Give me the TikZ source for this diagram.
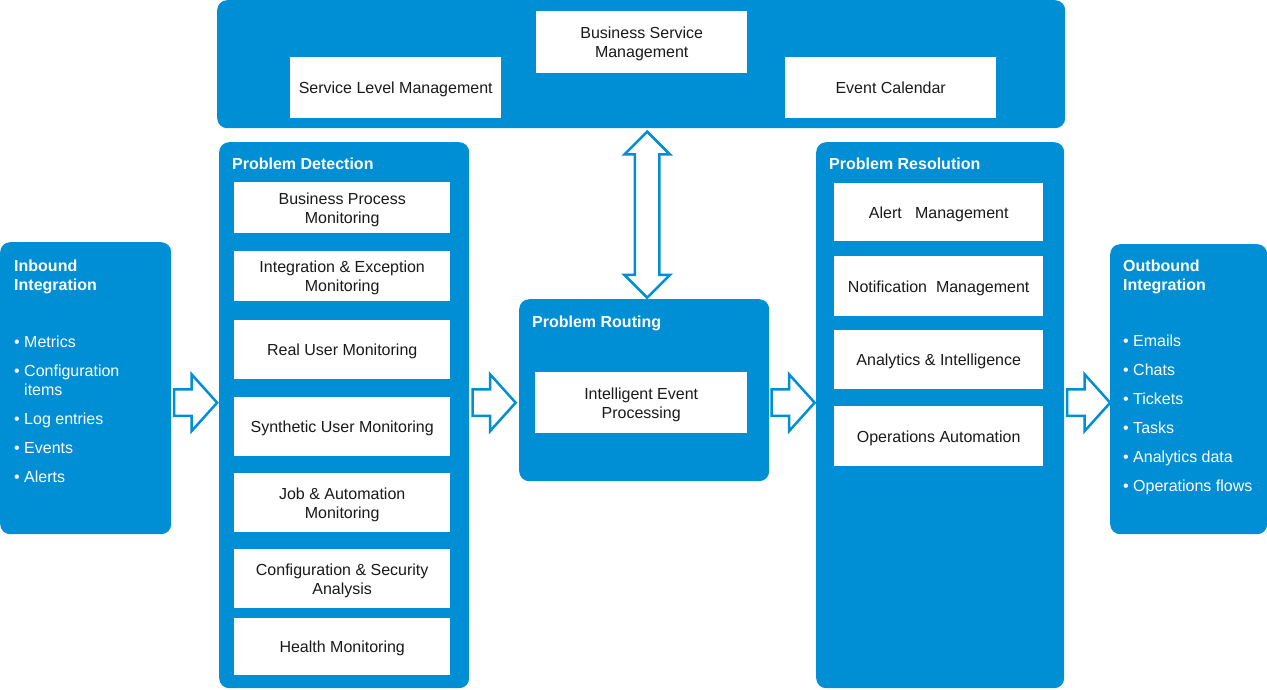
\documentclass[tikz,border=0pt]{standalone}
\usepackage{fontspec}
\setmainfont{Liberation Sans}
\usepackage{xcolor}
\usepackage{tikz}
\usetikzlibrary{shapes.arrows, calc}
\definecolor{panelblue}{HTML}{008FD4}
\definecolor{boxtext}{HTML}{1A1A1A}
\tikzset{
    panel/.style={fill=panelblue, rounded corners=10pt, anchor=north west, inner sep=0pt},
    whitebox/.style={fill=white, anchor=north west, inner sep=2pt, text depth=0pt, align=center, text=boxtext, font=\fontsize{16}{19}\selectfont},
    paneltitle/.style={anchor=base west, inner sep=0pt, align=left, text=white, font=\fontsize{16}{19}\selectfont\bfseries},
    itemlist/.style={anchor=base west, inner sep=0pt, align=left, text=white, font=\fontsize{16}{19}\selectfont},
    flowarrow/.style={single arrow, anchor=tail, draw=panelblue, fill=white, line width=2.5pt, inner xsep=0pt, inner ysep=12pt, minimum height=43pt, single arrow head extend=15pt, single arrow tip angle=96},
    dualarrow/.style={double arrow, rotate=90, draw=panelblue, fill=white, line width=2.5pt, inner xsep=0pt, inner ysep=11pt, minimum height=166pt, double arrow head extend=10.5pt}
}
\begin{document}
\begin{tikzpicture}[x=1pt, y=-1pt]
    \useasboundingbox (0,0) rectangle (1267,689);
    % Service management band
    \node[panel, minimum width=848pt, minimum height=128pt] (top) at (217,0) {};
    \node[whitebox, minimum width=211pt, minimum height=62pt] (bsm) at (536,11) {Business Service\\Management};
    \node[whitebox, minimum width=211pt, minimum height=61pt] (slm) at (290,57) {Service Level Management};
    \node[whitebox, minimum width=211pt, minimum height=61pt] (cal) at (785,57) {Event Calendar};
    % Inbound (base = last line)
    \node[panel, minimum width=171pt, minimum height=292pt] (inb) at (0,242) {};
    \node[paneltitle] (inbtitle) at ($(inb.north west)+(14,48)$) {Inbound\\Integration};
    \node[itemlist] (inblist) at ($(inb.north west)+(14,240)$) {• Metrics\\[10pt]• Configuration\\\hphantom{• }items\\[10pt]• Log entries\\[10pt]• Events\\[10pt]• Alerts};
    % Problem detection
    \node[panel, minimum width=250pt, minimum height=546pt] (det) at (219,142) {};
    \node[paneltitle] (dettitle) at ($(det.north west)+(13,27)$) {Problem Detection};
    \node[whitebox, minimum width=216pt, minimum height=51pt] (bpm) at (234,182) {Business Process\\Monitoring};
    \node[whitebox, minimum width=216pt, minimum height=50pt] (iem) at (234,251) {Integration \& Exception\\Monitoring};
    \node[whitebox, minimum width=216pt, minimum height=59pt] (rum) at (234,320) {Real User Monitoring};
    \node[whitebox, minimum width=216pt, minimum height=59pt] (sum) at (234,397) {Synthetic User Monitoring};
    \node[whitebox, minimum width=216pt, minimum height=59pt] (jam) at (234,473) {Job \& Automation\\Monitoring};
    \node[whitebox, minimum width=216pt, minimum height=59pt] (csa) at (234,549) {Configuration \& Security\\Analysis};
    \node[whitebox, minimum width=216pt, minimum height=57pt] (hlm) at (234,618) {Health Monitoring};
    % Problem routing
    \node[panel, minimum width=250pt, minimum height=182pt] (rout) at (519,299) {};
    \node[paneltitle] (routtitle) at ($(rout.north west)+(13,28)$) {Problem Routing};
    \node[whitebox, minimum width=212pt, minimum height=61pt] (iep) at (535,372) {Intelligent Event\\Processing};
    % Problem resolution
    \node[panel, minimum width=248pt, minimum height=546pt] (res) at (816,142) {};
    \node[paneltitle] (restitle) at ($(res.north west)+(13,27)$) {Problem Resolution};
    \node[whitebox, minimum width=209pt, minimum height=58pt] (alm) at (834,183) {Alert\ \ \ Management};
    \node[whitebox, minimum width=209pt, minimum height=60pt] (ntm) at (834,256) {Notification\ \ Management};
    \node[whitebox, minimum width=209pt, minimum height=59pt] (ani) at (834,330) {Analytics \& Intelligence};
    \node[whitebox, minimum width=209pt, minimum height=60pt] (opa) at (834,406) {Operations Automation};
    % Outbound
    \node[panel, minimum width=157pt, minimum height=290pt] (outb) at (1110,244) {};
    \node[paneltitle] (outbtitle) at ($(outb.north west)+(13,46)$) {Outbound\\Integration};
    \node[itemlist] (outblist) at ($(outb.north west)+(13,247)$) {• Emails\\[10pt]• Chats\\[10pt]• Tickets\\[10pt]• Tasks\\[10pt]• Analytics data\\[10pt]• Operations flows};
    % Flow arrows
    \node[flowarrow] (inbdet) at ($(inb.east |- iep)+(1.5,0)$) {};
    \node[flowarrow] (detrout) at ($(det.east |- iep)+(2,0)$) {};
    \node[flowarrow] (routres) at ($(rout.east |- iep)+(1,0)$) {};
    \node[flowarrow] (resoutb) at ($(res.east |- iep)+(1.5,0)$) {};
    \node[dualarrow] (toprout) at ($(top.south -| rout.north)!0.5!(rout.north)+(3,1)$) {};
\end{tikzpicture}
\end{document}
